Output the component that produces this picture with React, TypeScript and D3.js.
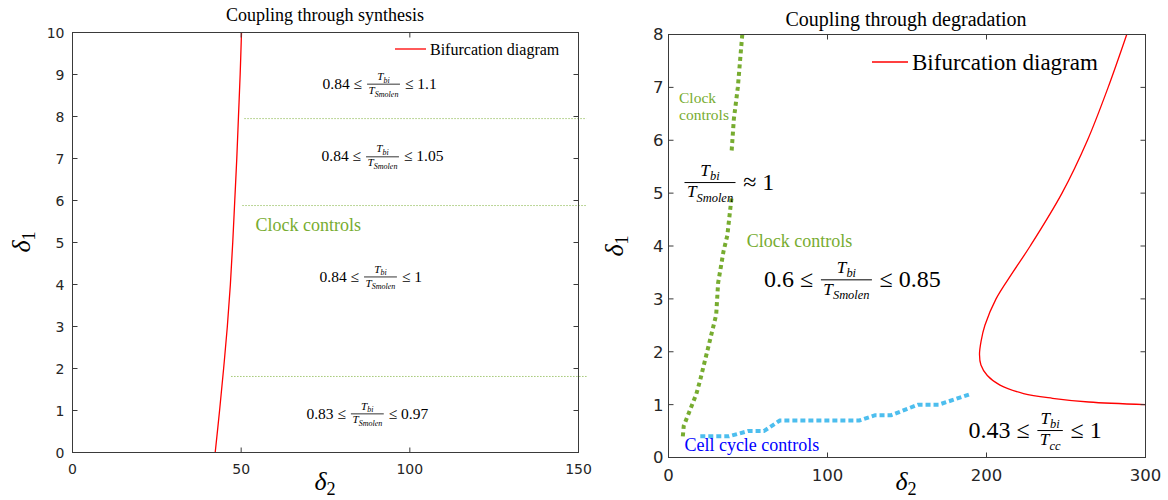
import React from "react";
import * as d3 from "d3";

// left panel: coupling through synthesis
const synthTicksX = [0, 50, 100, 150];
const synthTicksY = [0, 1, 2, 3, 4, 5, 6, 7, 8, 9, 10];
const synthBifDelta1 = [0, 1, 2, 3, 4, 5, 6, 7, 8, 9, 10];
const synthBifDelta2 = [42.3, 43.6, 44.8, 45.9, 46.8, 47.5, 48.1, 48.7, 49.2, 49.7, 50.1];
const synthBorderDelta1 = [7.95, 5.88, 1.81];
const synthBorderFrom = [51.0, 50.4, 47.1];
const synthBorderTo = 152.4;
const synthLow = ["0.84", "0.84", "0.84", "0.83"];
const synthHigh = ["1.1", "1.05", "1", "0.97"];

// right panel: coupling through degradation
const degTicksX = [0, 100, 200, 300];
const degTicksY = [0, 1, 2, 3, 4, 5, 6, 7, 8];
const degBifDelta2 = [288.2, 276.5, 263.5, 247.5, 227.5, 216.5, 206, 199, 196.6, 195.6, 196.5, 200.5, 208.5, 223.3, 241.5, 264.3, 300];
const degBifDelta1 = [8, 7, 6, 5, 4, 3.5, 3, 2.5, 2.2, 1.95, 1.75, 1.55, 1.37, 1.21, 1.12, 1.05, 1.0];
const clockUpperDelta2 = [46.4, 43.6, 41.1, 39.6];
const clockUpperDelta1 = [8, 7.0, 6.4, 5.75];
const clockLowerDelta2 = [39.6, 37.0, 34.6, 31.2, 30.0, 24.3, 19.8, 17.5, 9.6, 9.0];
const clockLowerDelta1 = [4.9, 4.2, 3.9, 3.3, 2.7, 2.0, 1.45, 1.2, 0.6, 0.4];
const cellDelta2 = [20, 38, 50, 60, 70, 120, 130, 140, 157, 170, 190];
const cellDelta1 = [0.4, 0.4, 0.5, 0.5, 0.7, 0.7, 0.8, 0.8, 1.0, 1.0, 1.2];

const serif = '"Liberation Serif", "Times New Roman", serif';
const sans = '"DejaVu Sans", sans-serif';
const axisColor = "#3a3a3a";
const red = "#FF0000";
const green = "#77AC30";
const cyan = "#4DBEEE";

let ctx: CanvasRenderingContext2D | null = null;
const textWidth = (s: string, size: number, italic = false) => {
  if (!ctx) ctx = document.createElement("canvas").getContext("2d");
  ctx!.font = `${italic ? "italic " : ""}${size}px "Liberation Serif"`;
  return ctx!.measureText(s).width;
};

// lhs <= T_bi / T_den <= rhs, centred on the fraction bar
function Ratio({ cx, cy, size, lhs, rhs, den }: any) {
  const fs = size * 0.72;
  const ss = fs * 0.72;
  const w = (sub: string) => textWidth("T", fs, true) + textWidth(sub, ss, true);
  const bar = Math.max(w("bi"), w(den)) + size * 0.2;
  const gap = size * 0.32;
  const frac = (y: number, sub: string) => (
    <text x={cx} y={y} textAnchor="middle" fontSize={fs} fontStyle="italic">
      T<tspan fontSize={ss} dy={ss * 0.35}>{sub}</tspan>
    </text>
  );
  return (
    <g fontFamily={serif} fill="#000">
      {lhs && (
        <text x={cx - bar / 2 - gap} y={cy + size * 0.3} textAnchor="end" fontSize={size}>
          {lhs}
        </text>
      )}
      {frac(cy - size * 0.28, "bi")}
      <line x1={cx - bar / 2} x2={cx + bar / 2} y1={cy} y2={cy} stroke="#000" strokeWidth={Math.max(0.8, size / 24)} />
      {frac(cy + size * 0.62, den)}
      <text x={cx + bar / 2 + gap} y={cy + size * 0.3} fontSize={size}>
        {rhs}
      </text>
    </g>
  );
}

function Frame({ x, y, ticksX, ticksY, fontSize, gapX, gapY }: any) {
  const [x0, x1] = x.range();
  const [y1, y0] = y.range();
  const tl = 5;
  return (
    <g stroke={axisColor} fill="none" strokeWidth={1}>
      <rect x={x0} y={y0} width={x1 - x0} height={y1 - y0} />
      {ticksX.map((t: number) => (
        <g key={"x" + t}>
          <line x1={x(t)} x2={x(t)} y1={y1} y2={y1 - tl} />
          <line x1={x(t)} x2={x(t)} y1={y0} y2={y0 + tl} />
          <text x={x(t)} y={y1 + gapX} textAnchor="middle" stroke="none" fill="#262626" fontFamily={sans} fontSize={fontSize}>
            {t}
          </text>
        </g>
      ))}
      {ticksY.map((t: number) => (
        <g key={"y" + t}>
          <line x1={x0} x2={x0 + tl} y1={y(t)} y2={y(t)} />
          <line x1={x1} x2={x1 - tl} y1={y(t)} y2={y(t)} />
          <text x={x0 - gapY} y={y(t)} dy="0.36em" textAnchor="end" stroke="none" fill="#262626" fontFamily={sans} fontSize={fontSize}>
            {t}
          </text>
        </g>
      ))}
    </g>
  );
}

function AxisLabels({ cx, by, lx, cy, size }: any) {
  return (
    <g fontFamily={serif} fill="#000" fontSize={size}>
      <text x={cx} y={by} textAnchor="middle">
        <tspan fontStyle="italic">δ</tspan>
        <tspan fontSize={size * 0.7} dy={size * 0.2}>2</tspan>
      </text>
      <text transform={`translate(${lx},${cy}) rotate(-90)`} textAnchor="middle">
        <tspan fontStyle="italic">δ</tspan>
        <tspan fontSize={size * 0.7} dy={size * 0.2}>1</tspan>
      </text>
    </g>
  );
}

export default function App() {
  // left
  const xs = d3.scaleLinear().domain([0, 150]).range([72.5, 578.5]);
  const ys = d3.scaleLinear().domain([0, 10]).range([452.5, 32.5]);
  const synthLine = d3
    .line<number>()
    .x((_, i) => xs(synthBifDelta2[i]))
    .y((d) => ys(d))
    .curve(d3.curveCatmullRom);

  // right
  const xd = d3.scaleLinear().domain([0, 300]).range([668.5, 1145.5]);
  const yd = d3.scaleLinear().domain([0, 8]).range([457.5, 34.5]);
  const path = (px: number[], py: number[], curve: any) =>
    d3
      .line<number>()
      .x((_, i) => xd(px[i]))
      .y((d) => yd(d))
      .curve(curve)(py) as string;

  return (
    <svg width={1168} height={500} style={{ position: "absolute", left: 0, top: 0, background: "#fff" }}>
      <rect width={1168} height={500} fill="#fff" />

      {/* ---------- left: synthesis ---------- */}
      <text x={325} y={21} textAnchor="middle" fontFamily={serif} fontSize={18}>
        Coupling through synthesis
      </text>
      {synthBorderDelta1.map((d, i) => (
        <line
          key={i}
          x1={xs(synthBorderFrom[i])}
          x2={xs(synthBorderTo)}
          y1={ys(d)}
          y2={ys(d)}
          stroke={green}
          strokeWidth={1}
          strokeDasharray="1 2"
        />
      ))}
      <path d={synthLine(synthBifDelta1) as string} fill="none" stroke={red} strokeWidth={1.3} />
      <Frame x={xs} y={ys} ticksX={synthTicksX} ticksY={synthTicksY} fontSize={14} gapX={21} gapY={8} />
      <AxisLabels cx={325} by={490} lx={30} cy={242} size={26} />

      <line x1={395} x2={426} y1={49} y2={49} stroke={red} strokeWidth={1.3} />
      <text x={430} y={54.5} fontFamily={serif} fontSize={16}>
        Bifurcation diagram
      </text>

      <Ratio cx={xs(92.2)} cy={ys(8.77)} size={15.5} lhs={`${synthLow[0]} ≤`} rhs={`≤ ${synthHigh[0]}`} den="Smolen" />
      <Ratio cx={xs(91.9)} cy={ys(7.04)} size={15.5} lhs={`${synthLow[1]} ≤`} rhs={`≤ ${synthHigh[1]}`} den="Smolen" />
      <Ratio cx={xs(91.3)} cy={ys(4.18)} size={15.5} lhs={`${synthLow[2]} ≤`} rhs={`≤ ${synthHigh[2]}`} den="Smolen" />
      <Ratio cx={xs(87.4)} cy={ys(0.92)} size={15.5} lhs={`${synthLow[3]} ≤`} rhs={`≤ ${synthHigh[3]}`} den="Smolen" />
      <text x={255.5} y={231} fontFamily={serif} fontSize={18} fill={green}>
        Clock controls
      </text>

      {/* ---------- right: degradation ---------- */}
      <text x={906} y={26} textAnchor="middle" fontFamily={serif} fontSize={20}>
        Coupling through degradation
      </text>
      <path d={path(clockUpperDelta2, clockUpperDelta1, d3.curveLinear)} fill="none" stroke={green} strokeWidth={4} strokeDasharray="4 3.5" />
      <path d={path(clockLowerDelta2, clockLowerDelta1, d3.curveLinear)} fill="none" stroke={green} strokeWidth={4} strokeDasharray="4 3.5" />
      <path d={path(cellDelta2, cellDelta1, d3.curveLinear)} fill="none" stroke={cyan} strokeWidth={4} strokeDasharray="5 3" />
      <path d={path(degBifDelta2, degBifDelta1, d3.curveCatmullRom)} fill="none" stroke={red} strokeWidth={1.3} />
      <Frame x={xd} y={yd} ticksX={degTicksX} ticksY={degTicksY} fontSize={16.5} gapX={23} gapY={5} />
      <AxisLabels cx={906} by={490} lx={623} cy={246} size={26} />

      <line x1={872} x2={908} y1={62} y2={62} stroke={red} strokeWidth={1.3} />
      <text x={912} y={70} fontFamily={serif} fontSize={23}>
        Bifurcation diagram
      </text>

      <g fontFamily={serif} fontSize={15.5} fill={green}>
        <text x={679} y={103}>Clock</text>
        <text x={679} y={120}>controls</text>
      </g>
      <Ratio cx={xd(26.1)} cy={yd(5.2)} size={24} lhs="" rhs="≈ 1" den="Smolen" />
      <text x={746.7} y={247} fontFamily={serif} fontSize={18} fill={green}>
        Clock controls
      </text>
      <Ratio cx={xd(111.9)} cy={yd(3.36)} size={24} lhs="0.6 ≤" rhs="≤ 0.85" den="Smolen" />
      <Ratio cx={xd(240)} cy={yd(0.51)} size={24} lhs="0.43 ≤" rhs="≤ 1" den="cc" />
      <text x={684.4} y={451} fontFamily={serif} fontSize={18} fill="#0000FF">
        Cell cycle controls
      </text>
    </svg>
  );
}
